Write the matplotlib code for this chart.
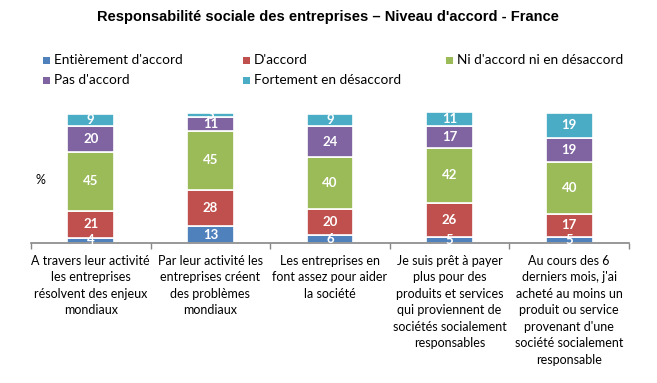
import numpy as np
import matplotlib
matplotlib.use("Agg")
import matplotlib.pyplot as plt
from matplotlib.patches import Rectangle

plt.rcParams['font.family'] = ['Lato', 'DejaVu Sans']

categories = [
    "A travers leur activité\nles entreprises\nrésolvent des enjeux\nmondiaux",
    "Par leur activité les\nentreprises créent\ndes problèmes\nmondiaux",
    "Les entreprises en\nfont assez pour aider\nla société",
    "Je suis prêt à payer\nplus pour des\nproduits et services\nqui proviennent de\nsociétés socialement\nresponsables",
    "Au cours des 6\nderniers mois, j'ai\nacheté au moins un\nproduit ou service\nprovenant d'une\nsociété socialement\nresponsable",
]
series_names = ["Entièrement d'accord", "D'accord", "Ni d'accord ni en désaccord",
                "Pas d'accord", "Fortement en désaccord"]
entierement = [4, 13, 6, 5, 5]
daccord = [21, 28, 20, 26, 17]
neutre = [45, 45, 40, 42, 40]
pas_daccord = [20, 11, 24, 17, 19]
fortement = [9, 3, 9, 11, 19]
colors = ["#4F81BD", "#C0504D", "#9BBB59", "#8064A2", "#4BACC6"]

series = [entierement, daccord, neutre, pas_daccord, fortement]

W, H = 657, 383
fig = plt.figure(figsize=(W / 100, H / 100), dpi=100)
# axes: x 31..629 px, baseline at y=243, 100% = 130 px
ax = fig.add_axes([31 / W, (H - 243) / H, (629 - 31) / W, 130 / H])

x = np.arange(len(categories))
bottom = np.zeros(len(categories))
for vals, col in zip(series, colors):
    vals = np.array(vals, dtype=float)
    ax.bar(x, vals, width=0.39, bottom=bottom, color=col,
           edgecolor="white", linewidth=1.2, clip_on=False, zorder=2)
    for xi, b, v in zip(x, bottom, vals):
        ax.text(xi, b + v / 2, f"{int(v)}", ha="center", va="center",
                color="white", fontsize=9.5, fontweight="bold", zorder=3,
                clip_on=False)
    bottom += vals

ax.set_xlim(-0.5, len(categories) - 0.5)
ax.set_ylim(0, 100)
for s in ["top", "right", "left"]:
    ax.spines[s].set_visible(False)
ax.spines["bottom"].set_color("#868686")
ax.spines["bottom"].set_linewidth(1.2)
ax.set_yticks([])
ax.set_xticks(np.arange(-0.5, len(categories)))
ax.set_xticklabels([])
ax.tick_params(axis="x", length=4, color="#868686", width=1)

for xi, lab in zip(x, categories):
    ax.text(xi, -9, lab, ha="center", va="top", fontsize=9,
            linespacing=1.45, clip_on=False)

fig.text(35 / W, 1 - 180 / H, "%", fontsize=9, ha="left", va="center")

fig.text(328 / W, 1 - 17 / H, "Responsabilité sociale des entreprises – Niveau d'accord - France",
         ha="center", va="center", fontsize=10.5, fontweight="bold",
         family="Liberation Sans")

# legend, placed by hand (3 columns, 2 rows)
leg_pos = [(43, 60), (243, 60), (446, 60), (43, 80), (243, 80)]
for (px, py), name, col in zip(leg_pos, series_names, colors):
    fig.patches.append(Rectangle((px / W, 1 - (py + 3.5) / H), 7 / W, 7 / H,
                                 facecolor=col, transform=fig.transFigure))
    fig.text((px + 11) / W, 1 - py / H, name, fontsize=9.8, ha="left", va="center")

fig.savefig("out.png", dpi=100)
